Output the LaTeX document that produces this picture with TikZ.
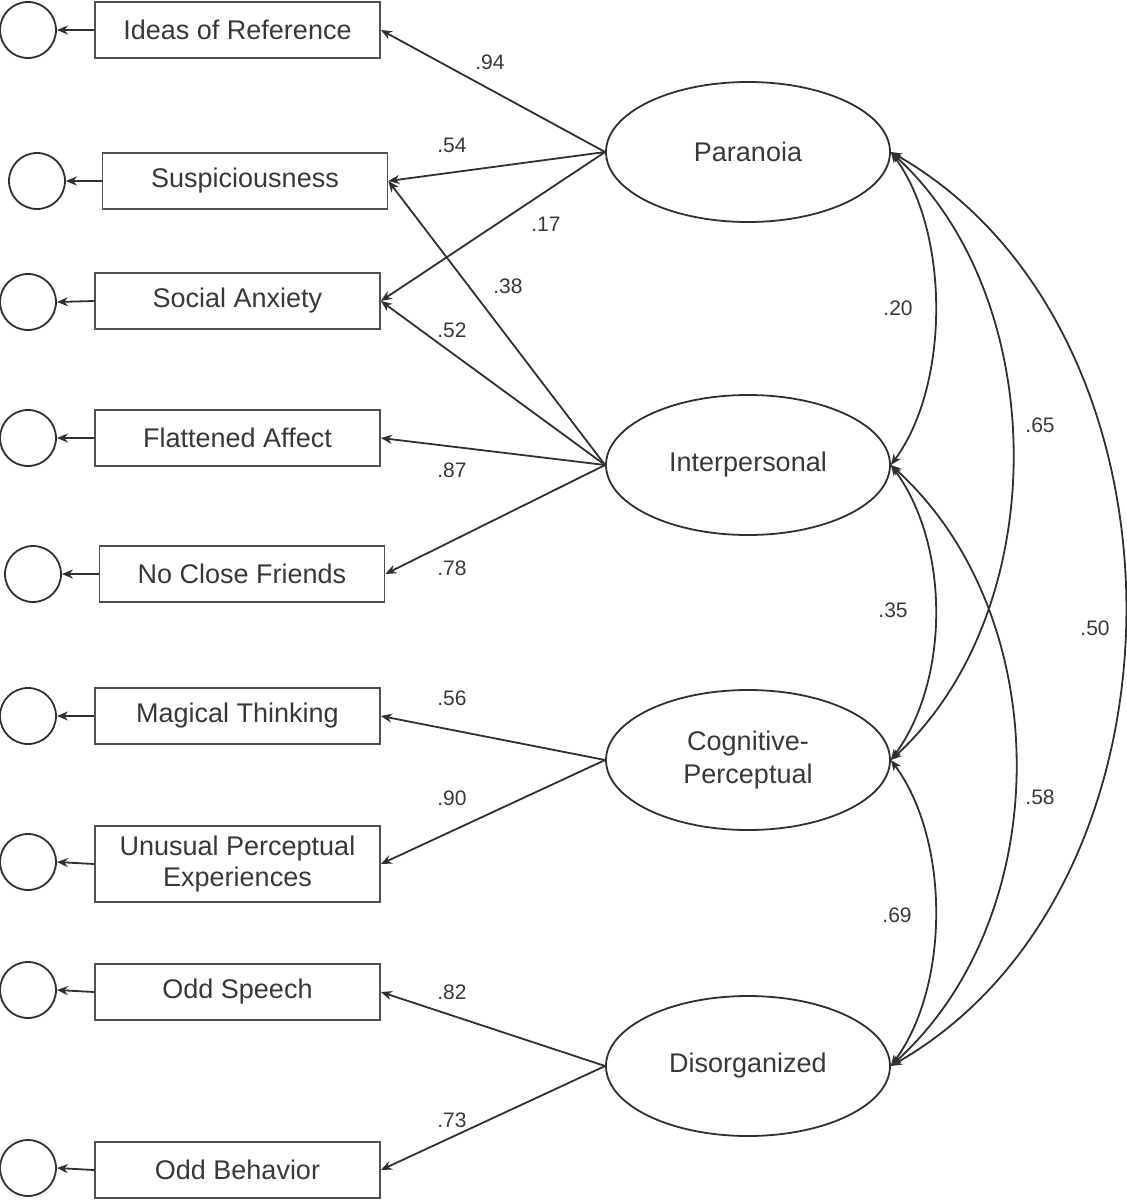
\documentclass[tikz,border=0pt]{standalone}
\usepackage{fontspec}
\setmainfont{Liberation Sans}
\usetikzlibrary{shapes.geometric,arrows.meta}
\definecolor{linegray}{HTML}{303030}
\definecolor{boxgray}{HTML}{505050}
\definecolor{txtgray}{HTML}{383838}
\tikzset{
 obs/.style={draw=boxgray, line width=1.8pt, minimum width=285pt, minimum height=56pt, inner sep=0pt, font=\fontsize{27}{31}\selectfont, text=txtgray, align=center},
 lat/.style={ellipse, draw=linegray, line width=1.8pt, minimum width=284pt, minimum height=140pt, inner sep=0pt, font=\fontsize{27}{33}\selectfont, text=txtgray, align=center},
 err/.style={circle, draw=linegray, line width=1.8pt, minimum size=56pt, inner sep=0pt},
 pth/.style={draw=linegray, line width=1.8pt, -{Stealth[length=11pt,width=9pt]}},
 cov/.style={draw=linegray, line width=1.8pt, {Stealth[length=11pt,width=9pt]}-{Stealth[length=11pt,width=9pt]}},
 lbl/.style={font=\fontsize{21}{25}\selectfont, text=txtgray, inner sep=0pt}
}
\begin{document}
\begin{tikzpicture}[x=1pt,y=-1pt]
\useasboundingbox (0,0) rectangle (1127,1200);
% observed
\node[obs] (b1) at (237.5,30) {Ideas of Reference};
\node[obs] (b2) at (245,181) {Suspiciousness};
\node[obs] (b3) at (237.5,301) {Social Anxiety};
\node[obs] (b4) at (237.5,438) {Flattened Affect};
\node[obs] (b5) at (242,574) {No Close Friends};
\node[obs] (b6) at (237.5,716) {Magical Thinking};
\node[obs, minimum height=76pt] (b7) at (237.5,864) {Unusual Perceptual\\Experiences};
\node[obs] (b8) at (237.5,992) {Odd Speech};
\node[obs] (b9) at (237.5,1170) {Odd Behavior};
% errors
\node[err] (e1) at (28,30) {};
\node[err] (e2) at (37,181) {};
\node[err] (e3) at (28,302) {};
\node[err] (e4) at (28,438) {};
\node[err] (e5) at (33,574) {};
\node[err] (e6) at (28,716) {};
\node[err] (e7) at (28,862) {};
\node[err] (e8) at (28,990) {};
\node[err] (e9) at (28,1168) {};
\foreach \i in {1,...,9} {\draw[pth] (b\i.west) -- (e\i.east);}
% latent
\node[lat] (P) at (748,152) {Paranoia};
\node[lat] (I) at (748,465) {Interpersonal};
\node[lat] (C) at (748,760) {Cognitive-\\Perceptual};
\node[lat] (D) at (748,1066) {Disorganized};
% loadings
\draw[pth] (P.west) -- (b1.east);
\draw[pth] (P.west) -- (b2.east);
\draw[pth] (P.west) -- (b3.east);
\draw[pth] (I.west) -- (b2.east);
\draw[pth] (I.west) -- (b3.east);
\draw[pth] (I.west) -- (b4.east);
\draw[pth] (I.west) -- (b5.east);
\draw[pth] (C.west) -- (b6.east);
\draw[pth] (C.west) -- (b7.east);
\draw[pth] (D.west) -- (b8.east);
\draw[pth] (D.west) -- (b9.east);
\node[lbl] (l1) at (490,62) {.94};
\node[lbl] (l2) at (452,145) {.54};
\node[lbl] (l3) at (546,224) {.17};
\node[lbl] (l4) at (508,286) {.38};
\node[lbl] (l5) at (452,330) {.52};
\node[lbl] (l6) at (452,470) {.87};
\node[lbl] (l7) at (452,568) {.78};
\node[lbl] (l8) at (452,698) {.56};
\node[lbl] (l9) at (452,798) {.90};
\node[lbl] (l10) at (452,992) {.82};
\node[lbl] (l11) at (452,1120) {.73};
% covariances
\draw[cov] (P.east) .. controls (950,232) and (950,385) .. (I.east);
\draw[cov] (I.east) .. controls (950,545) and (950,680) .. (C.east);
\draw[cov] (C.east) .. controls (950,840) and (950,986) .. (D.east);
\draw[cov] (P.east) .. controls (1053,300) and (1053,612) .. (C.east);
\draw[cov] (I.east) .. controls (1057,615) and (1057,916) .. (D.east);
\draw[cov] (P.east) .. controls (1203,330) and (1203,888) .. (D.east);
\node[lbl] (c1) at (898,308) {.20};
\node[lbl] (c2) at (893,610) {.35};
\node[lbl] (c3) at (897,915) {.69};
\node[lbl] (c4) at (1040,425) {.65};
\node[lbl] (c5) at (1040,797) {.58};
\node[lbl] (c6) at (1095,628) {.50};
\end{tikzpicture}
\end{document}
